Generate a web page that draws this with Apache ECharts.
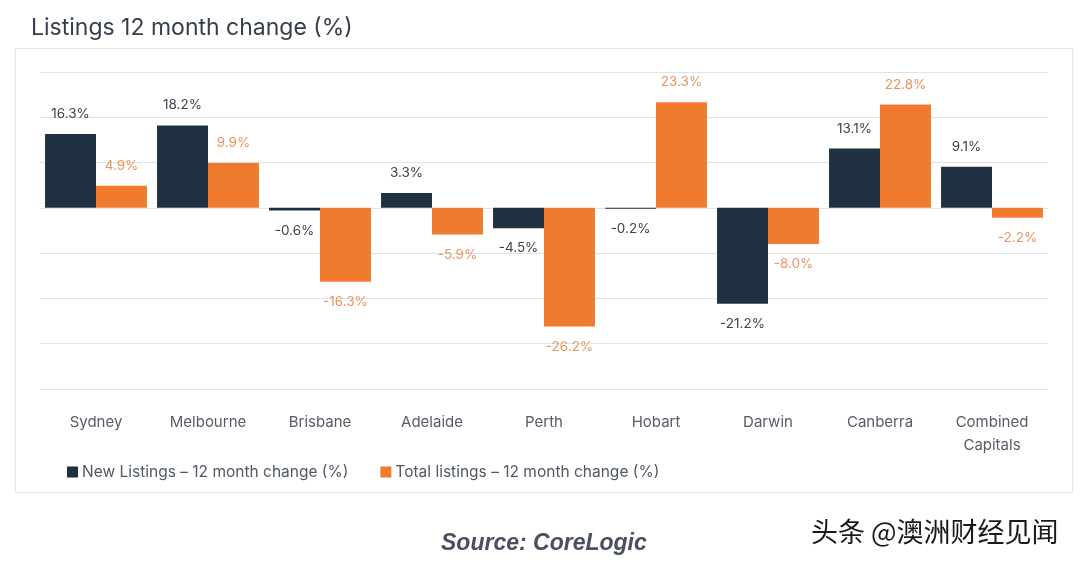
<!DOCTYPE html>
<html>
<head>
<meta charset="utf-8">
<script src="https://cdn.jsdelivr.net/npm/echarts@6/dist/echarts.min.js"></script>
<style>
html,body{margin:0;padding:0;background:#fff;}
#chart{width:1080px;height:564px;}
</style>
</head>
<body>
<div id="chart"></div>
<script>
const categories = ['Sydney','Melbourne','Brisbane','Adelaide','Perth','Hobart','Darwin','Canberra','Combined\nCapitals'];
const newListings = [16.3, 18.2, -0.6, 3.3, -4.5, -0.2, -21.2, 13.1, 9.1];
const totalListings = [4.9, 9.9, -16.3, -5.9, -26.2, 23.3, -8.0, 22.8, -2.2];
const seriesNames = ['New Listings – 12 month change (%)', 'Total listings – 12 month change (%)'];
const yMin = -40, yMax = 30, yInterval = 10;

const DARK = '#1f3141';
const ORANGE = '#f07b2f';
const FONT = 'Inter, "Noto Sans", sans-serif';

const chart = echarts.init(document.getElementById('chart'));

function labelCfg(color) {
  return {
    show: true,
    color: color,
    fontFamily: FONT,
    fontSize: 13.5,
    distance: 13,
    position: 'top',
    formatter: p => p.value.toFixed(1) + '%'
  };
}

function dataWithLabels(arr, color) {
  return arr.map(v => ({
    value: v,
    label: Object.assign(labelCfg(color), { position: v < 0 ? 'bottom' : 'top' })
  }));
}

chart.setOption({
  backgroundColor: '#fff',
  animation: false,
  graphic: [
    { type: 'rect', z: -10, shape: { x: 15.5, y: 48.5, width: 1057, height: 444 },
      style: { fill: '#fff', stroke: '#e4e4e4', lineWidth: 1 } },
    { type: 'text', left: 31, top: 17,
      style: { text: 'Listings 12 month change (%)', fill: '#353e4a', font: '400 23px ' + FONT } },
    { type: 'text', left: 441, top: 532,
      style: { text: 'Source: CoreLogic', fill: '#4a5060', font: 'italic bold 23px "Liberation Sans", Arial, sans-serif' } },
    { type: 'text', left: 810, top: 517,
      style: { text: '头条 @澳洲财经见闻', fill: '#1a1a1a', font: '400 27px "Noto Sans CJK SC", sans-serif',
               stroke: '#fff', lineWidth: 2 } }
  ],
  legend: {
    left: 62, top: 459,
    icon: 'rect', itemWidth: 11, itemHeight: 11, itemGap: 32,
    textStyle: { color: '#505864', fontFamily: FONT, fontSize: 15.5, padding: [0,0,0,-1] },
    data: seriesNames
  },
  grid: { left: 40, right: 32, top: 72, height: 317, containLabel: false },
  xAxis: {
    type: 'category',
    data: categories,
    position: 'bottom',
    axisLine: { show: false, onZero: false },
    axisTick: { show: false },
    axisLabel: { color: '#555c66', fontFamily: FONT, fontSize: 15, margin: 22, lineHeight: 23 }
  },
  yAxis: {
    type: 'value',
    min: yMin, max: yMax, interval: yInterval,
    axisLabel: { show: false },
    axisLine: { show: false },
    axisTick: { show: false },
    splitLine: { lineStyle: { color: '#e2e2e2', width: 1.2 } }
  },
  series: [
    { name: seriesNames[0], type: 'bar', data: dataWithLabels(newListings, '#3b4450'),
      itemStyle: { color: DARK }, barGap: '0%', barCategoryGap: '9%' },
    { name: seriesNames[1], type: 'bar', data: dataWithLabels(totalListings, '#eb9461'),
      itemStyle: { color: ORANGE }, barGap: '0%', barCategoryGap: '9%' }
  ]
});
</script>
</body>
</html>
